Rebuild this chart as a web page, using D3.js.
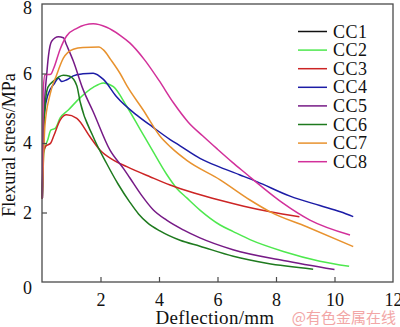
<!DOCTYPE html>
<html>
<head>
<meta charset="utf-8">
<script src="https://cdn.jsdelivr.net/npm/d3@7"></script>
<style>
  body { margin: 0; background: #fff; }
  svg text { font-family: "Liberation Serif", "DejaVu Serif", serif; }
</style>
</head>
<body>
<div id="chart"></div>
<script>
// series names and colours
var names = ["CC1", "CC2", "CC3", "CC4", "CC5", "CC6", "CC7", "CC8"];
var colors = ["#111111", "#4ee84e", "#cc2424", "#1c1ca6", "#761a86", "#1e7a1e", "#e8922e", "#d2309a"];

// deflection (mm), stress (MPa)
var cc1 = [];
var cc2 = [[0.01,2.4],[0.06,3.7],[0.2,4.1],[0.3,4.37],[0.45,4.42],[0.62,4.72],[0.9,4.95],[1.3,5.3],[1.75,5.6],[2.1,5.73],[2.44,5.62],[2.9,5.05],[3.35,4.4],[3.8,3.75],[4.26,3.1],[4.6,2.7],[4.95,2.42],[5.4,2.07],[6.09,1.64],[6.54,1.45],[7.11,1.22],[8.25,0.88],[9.5,0.6],[10.5,0.45]];
var cc3 = [[0.01,2.4],[0.04,3.7],[0.12,3.9],[0.3,4.0],[0.4,4.2],[0.62,4.66],[0.84,4.81],[1.19,4.71],[1.64,4.18],[1.98,3.8],[2.44,3.51],[2.9,3.32],[3.69,3.03],[4.38,2.79],[5.2,2.56],[6.09,2.35],[6.9,2.18],[7.8,2.02],[8.8,1.88]];
var cc4 = [[0.01,2.4],[0.05,4.3],[0.1,4.95],[0.2,5.38],[0.43,5.72],[0.56,5.86],[0.68,5.77],[0.85,5.82],[1.07,5.93],[1.4,5.99],[1.75,6.01],[2.1,5.83],[2.55,5.33],[3.24,4.8],[3.8,4.45],[4.38,4.1],[4.72,3.92],[5.4,3.56],[6.1,3.3],[6.77,3.08],[7.34,2.89],[8.48,2.47],[9.5,2.2],[10.2,2.02],[10.64,1.88]];
var cc5 = [[0.01,2.4],[0.08,5.0],[0.16,5.96],[0.22,6.5],[0.33,6.93],[0.56,7.06],[0.73,7.03],[0.84,6.82],[1.07,6.36],[1.4,5.55],[1.75,4.9],[2.32,3.8],[2.8,3.25],[3.0,3.0],[3.4,2.5],[3.8,2.08],[4.26,1.78],[4.83,1.5],[5.4,1.27],[6.53,0.93],[8.25,0.62],[10.0,0.36]];
var cc6 = [[0.01,2.4],[0.08,4.8],[0.2,5.6],[0.39,5.78],[0.73,5.95],[0.95,5.92],[1.19,5.65],[1.3,5.2],[1.75,4.18],[2.21,3.41],[2.6,2.82],[3.0,2.3],[3.3,1.96],[3.6,1.71],[4.03,1.47],[4.72,1.2],[5.4,1.03],[6.54,0.74],[7.68,0.54],[9.27,0.37]];
var cc7 = [[0.01,2.4],[0.1,4.5],[0.27,5.38],[0.5,5.96],[0.73,6.44],[1.07,6.7],[1.4,6.75],[1.95,6.76],[2.1,6.68],[2.35,6.4],[2.67,6.0],[2.9,5.65],[3.46,4.95],[4.03,4.2],[4.4,3.88],[4.95,3.5],[6.09,2.94],[7.11,2.36],[7.8,2.02],[9.05,1.59],[10.64,1.02]];
var cc8 = [[0.01,2.4],[0.04,5.48],[0.1,5.96],[0.3,5.98],[0.4,6.15],[0.62,6.7],[0.84,7.08],[1.19,7.3],[1.75,7.43],[2.21,7.33],[2.67,7.1],[3.0,6.88],[3.5,6.4],[4.0,5.8],[4.5,5.15],[5.0,4.6],[5.5,4.2],[6.0,3.82],[6.5,3.45],[7.0,3.1],[7.5,2.75],[8.25,2.26],[9.16,1.78],[10.53,1.35]];
var series = [cc1, cc2, cc3, cc4, cc5, cc6, cc7, cc8];

var xTicks = [2, 4, 6, 8, 10, 12];
var yTicks = [0, 2, 4, 6, 8];

var W = 400, H = 327;
var mLeft = 42, mRight = 393, mTop = 4, mBottom = 282;
var SERIF = "Liberation Serif";

var svg = d3.select("#chart").append("svg")
    .attr("width", W)
    .attr("height", H);

svg.append("rect").attr("width", W).attr("height", H).attr("fill", "#fff");

var x = d3.scaleLinear().domain([0, 12]).range([mLeft, mRight]);
var y = d3.scaleLinear().domain([0, 8]).range([mBottom, mTop]);

// curves
var line = d3.line()
    .x(d => x(d[0]))
    .y(d => y(d[1]))
    .curve(d3.curveMonotoneX);

svg.selectAll("path.curve")
    .data(series)
    .enter()
    .append("path")
    .attr("class", "curve")
    .attr("d", d => d.length ? line(d) : null)
    .attr("fill", "none")
    .attr("stroke", (d, i) => colors[i])
    .attr("stroke-width", 1.5);

// frame
svg.append("rect")
    .attr("x", mLeft).attr("y", mTop)
    .attr("width", mRight - mLeft).attr("height", mBottom - mTop)
    .attr("fill", "none")
    .attr("stroke", "#4a4a4a")
    .attr("stroke-width", 1.3);

// axes with inward ticks
var xAxis = svg.append("g")
    .attr("transform", "translate(0," + mBottom + ")")
    .call(d3.axisBottom(x).tickValues(xTicks).tickSize(-5).tickPadding(11));
var yAxis = svg.append("g")
    .attr("transform", "translate(" + mLeft + ",0)")
    .call(d3.axisLeft(y).tickValues(yTicks).tickSize(-5).tickPadding(10));

[xAxis, yAxis].forEach(function(g){
    g.select(".domain").remove();
    g.selectAll("line").attr("stroke", "#4a4a4a").attr("stroke-width", 1.2);
    g.selectAll("text")
        .attr("fill", "#111")
        .style("font-size", "18px")
        .style("font-family", SERIF);
});
yAxis.selectAll(".tick")
    .filter(d => d == 0)
    .select("text").attr("dy", "0.62em");
yAxis.selectAll(".tick")
    .filter(d => d == 8)
    .select("text").attr("dy", "0.55em");
yAxis.selectAll(".tick")
    .filter(d => d == 0 || d == 8)
    .select("line").remove();
xAxis.selectAll(".tick")
    .filter(d => d == 12)
    .select("line").remove();

// axis titles
svg.append("text")
    .attr("x", 215).attr("y", 324)
    .attr("text-anchor", "middle")
    .style("font-size", "19px")
    .style("letter-spacing", "0.3px")
    .style("font-family", SERIF)
    .attr("fill", "#111")
    .text("Deflection/mm");

svg.append("text")
    .attr("transform", "translate(15,145) rotate(-90)")
    .attr("text-anchor", "middle")
    .style("font-size", "18px")
    .style("font-family", SERIF)
    .attr("fill", "#111")
    .text("Flexural stress/MPa");

// legend
var legend = svg.selectAll("g.leg")
    .data(names)
    .enter()
    .append("g")
    .attr("class", "leg")
    .attr("transform", (d, i) => "translate(298," + (31.5 + i * 18.6) + ")");

legend.append("line")
    .attr("x1", 0).attr("x2", 29)
    .attr("stroke", (d, i) => colors[i])
    .attr("stroke-width", 1.5);

legend.append("text")
    .attr("x", 35).attr("y", 6)
    .style("font-size", "18px")
    .style("letter-spacing", "0.5px")
    .style("font-family", SERIF)
    .attr("fill", "#111")
    .text(d => d);

// watermark
svg.append("text")
    .attr("x", 396).attr("y", 323)
    .attr("text-anchor", "end")
    .style("font-family", "Noto Sans CJK SC")
    .style("font-size", "15px")
    .attr("fill", "#f2a6a6")
    .text("@有色金属在线");
</script>
</body>
</html>
